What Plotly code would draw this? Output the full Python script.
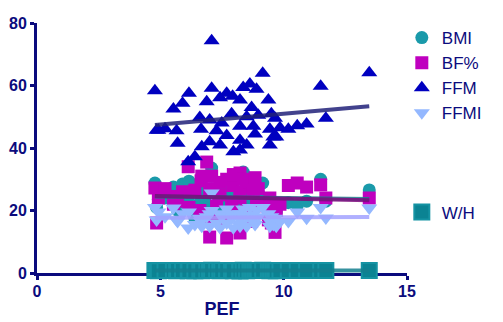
import numpy as np
import plotly.graph_objects as go

pef = [4.78, 4.85, 4.92, 5.19, 5.53, 5.66, 5.70, 5.90, 6.13, 6.16, 6.40, 6.60, 6.65, 6.68,
       6.88, 7.00, 7.00, 7.08, 7.08, 7.28, 7.42, 7.42, 7.49, 7.69, 7.69, 7.89, 7.93, 7.96,
       8.23, 8.23, 8.23, 8.23, 8.36, 8.50, 8.50, 8.63, 8.70, 8.77, 8.84, 8.90, 8.97, 9.15,
       9.38, 9.44, 9.44, 9.50, 9.58, 9.65, 9.70, 9.85, 10.19, 10.55, 10.93, 11.50, 11.71, 13.47]

ffm = [58.3, 45.7, 45.7, 46.2, 52.5, 45.5, 41.5, 54.3, 35.6, 57.5, 37.2, 49.8, 46.0, 40.4,
       54.8, 49.0, 42.0, 74.3, 59.1, 45.5, 56.1, 41.0, 48.0, 57.5, 44.0, 51.0, 56.6, 38.8,
       55.4, 47.0, 42.5, 39.4, 59.4, 50.0, 41.0, 60.5, 53.0, 47.0, 44.5, 58.8, 50.5, 63.9,
       55.4, 46.0, 41.0, 51.0, 43.5, 49.5, 43.5, 46.5, 46.0, 47.1, 47.7, 59.8, 49.5, 64.1]

bmi = [28.8, 21.0, 23.5, 24.0, 27.5, 22.0, 20.0, 28.5, 24.0, 29.4, 17.5, 22.5, 25.0, 23.0,
       26.5, 21.5, 24.5, 33.6, 27.0, 20.5, 25.5, 22.0, 24.0, 26.0, 23.0, 25.0, 27.5, 21.0,
       26.0, 23.5, 22.0, 19.0, 32.3, 25.0, 21.5, 28.0, 26.5, 24.0, 22.5, 27.0, 25.5, 28.8,
       22.5, 21.5, 20.0, 22.0, 21.0, 22.5, 19.5, 22.0, 22.5, 21.5, 23.0, 30.0, 23.0, 26.6]

bf = [27.2, 16.0, 24.0, 27.0, 22.0, 24.5, 23.0, 26.0, 34.0, 21.0, 26.5, 20.0, 29.5, 31.0,
      35.5, 11.5, 27.0, 31.0, 18.0, 23.0, 29.0, 25.0, 17.0, 11.2, 30.0, 22.0, 28.0, 31.5,
      12.8, 26.0, 32.0, 24.0, 30.0, 20.0, 27.5, 29.0, 16.5, 25.5, 30.5, 21.5, 27.0, 22.5,
      17.0, 21.0, 24.0, 16.0, 22.0, 13.0, 20.0, 22.0, 28.0, 28.8, 27.5, 28.2, 24.0, 24.0]

ffmi = [21.0, 17.0, 19.5, 18.0, 20.8, 17.0, 16.5, 19.0, 14.4, 19.5, 15.5, 17.5, 16.5, 15.0,
        18.0, 19.0, 15.0, 25.6, 20.0, 16.0, 19.0, 14.5, 18.0, 20.5, 16.0, 17.5, 19.0, 14.5,
        19.0, 17.0, 15.5, 15.0, 20.5, 18.0, 15.0, 21.0, 18.5, 17.0, 15.5, 20.0, 18.0, 21.0,
        19.0, 16.5, 15.0, 18.0, 15.5, 17.5, 15.0, 16.5, 16.5, 19.5, 17.5, 21.0, 17.6, 20.8]

wh = [0.80, 0.78, 0.76, 0.79, 0.82, 0.75, 0.77, 0.81, 0.74, 0.83, 0.76, 0.78, 0.80, 0.75,
      0.82, 0.79, 0.77, 0.88, 0.84, 0.78, 0.81, 0.74, 0.79, 0.83, 0.77, 0.80, 0.82, 0.75,
      0.81, 0.79, 0.76, 0.74, 0.85, 0.80, 0.76, 0.84, 0.81, 0.79, 0.77, 0.83, 0.80, 0.85,
      0.81, 0.78, 0.75, 0.80, 0.77, 0.79, 0.76, 0.78, 0.79, 0.80, 0.81, 0.84, 0.78, 0.82]

series_names = ["BMI", "BF%", "FFM", "FFMI", "W/H"]
x_ticks = [0, 5, 10, 15]
y_ticks = [0, 20, 40, 60, 80]

NAVY = "#0b0b7d"
FONT = "Liberation Sans, Arial, sans-serif"

styles = {
    "BMI":  dict(symbol="circle", color="#1a9aaa", size=13, line_color="#1b7d8a", group="a"),
    "BF%":  dict(symbol="square", color="#bf00bf", size=13, line_color="#7d0a7d", group="a"),
    "FFM":  dict(symbol="triangle-up", color="#0000c0", size=14, line_color="#22227a", group="a"),
    "FFMI": dict(symbol="triangle-down", color="#94b8ff", size=14, line_color="#a3a3ff", group="a"),
    "W/H":  dict(symbol="square", color="#0b8393", size=15, line_color="#147f8f", group="b"),
}
values = {"BMI": bmi, "BF%": bf, "FFM": ffm, "FFMI": ffmi, "W/H": wh}

fig = go.Figure()

for name in series_names:
    st = styles[name]
    mk = dict(symbol=st["symbol"], color=st["color"], size=st["size"], line=dict(width=0))
    if name == "W/H":
        mk["line"] = dict(width=2, color="#1593a3")
    fig.add_trace(go.Scatter(x=pef, y=values[name], mode="markers", marker=mk,
                             showlegend=False, cliponaxis=False, hoverinfo="skip"))

xa = np.array(pef)
for name in series_names:
    st = styles[name]
    k, b = np.polyfit(xa, np.array(values[name]), 1)
    xs = [xa.min(), xa.max()]
    fig.add_trace(go.Scatter(x=xs, y=[k * v + b for v in xs], mode="lines",
                             line=dict(color=st["line_color"], width=4), opacity=0.85,
                             showlegend=False, cliponaxis=False, hoverinfo="skip"))

for name in series_names:
    st = styles[name]
    mk = dict(symbol=st["symbol"], color=st["color"], size=st["size"])
    if name == "W/H":
        mk["line"] = dict(width=2, color="#1593a3")
    fig.add_trace(go.Scatter(x=[None], y=[None], mode="markers", name=name,
                             legendgroup=st["group"], marker=mk))

axis_common = dict(showline=True, linecolor=NAVY, linewidth=3, ticks="outside",
                   tickcolor=NAVY, tickwidth=3, ticklen=4, showgrid=False, zeroline=False,
                   tickfont=dict(family=FONT, size=16, color=NAVY, weight="bold"),
                   layer="below traces", automargin=False)

fig.update_layout(
    width=503, height=322,
    margin=dict(l=37, r=96, t=23, b=49),
    paper_bgcolor="white", plot_bgcolor="white",
    xaxis=dict(range=[0, 15], tickvals=x_ticks, ticktext=[str(t) for t in x_ticks],
               ticklabelstandoff=-2,
               title=dict(text="<b>PEF</b>", font=dict(family=FONT, size=18, color=NAVY), standoff=4),
               **axis_common),
    yaxis=dict(range=[0, 80], tickvals=y_ticks, ticktext=[str(t) for t in y_ticks],
               **axis_common),
    legend=dict(x=0.986, y=1.012, xanchor="left", yanchor="top",
                font=dict(family=FONT, size=17, color=NAVY),
                traceorder="grouped", tracegroupgap=74, itemwidth=30,
                maxheight=400, bgcolor="rgba(0,0,0,0)"),
    showlegend=True,
)

fig.write_html("out.html")
